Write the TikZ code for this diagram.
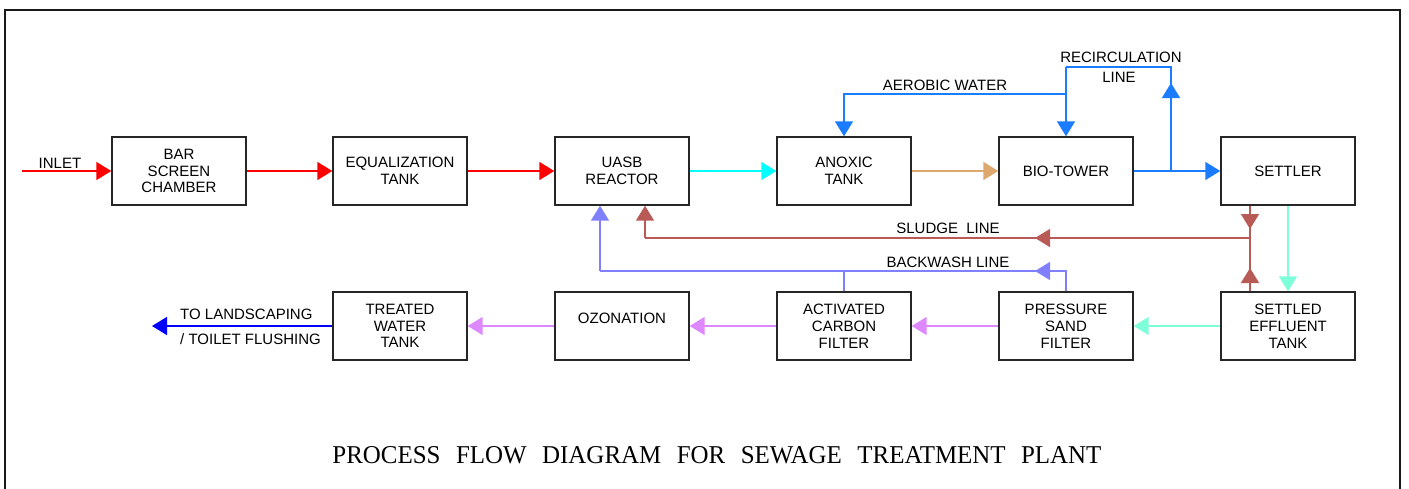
\documentclass[tikz,border=0pt]{standalone}
\usepackage{graphicx}
\usepackage{fontspec}
\setmainfont{Liberation Sans}
\newfontfamily\titlefont{Liberation Serif}
\usetikzlibrary{arrows.meta}
\definecolor{cRed}{RGB}{255,0,0}
\definecolor{cCyan}{RGB}{0,255,255}
\definecolor{cTan}{RGB}{221,168,110}
\definecolor{cBlue}{RGB}{28,124,255}
\definecolor{cSludge}{RGB}{184,91,86}
\definecolor{cWash}{RGB}{128,128,255}
\definecolor{cAqua}{RGB}{127,255,217}
\definecolor{cViolet}{RGB}{221,136,255}
\definecolor{cOut}{RGB}{0,0,255}
\begin{document}
\begin{tikzpicture}[x=1pt,y=-1pt,
  box/.style={draw=black!85,line width=1.4pt,minimum width=134pt,minimum height=68pt,
    align=center,inner sep=0pt,font=\fontsize{15}{16.8}\selectfont},
  pipe/.style={line width=1.5pt},
  flow/.style={pipe,-{Triangle[length=15pt,width=18pt]}},
  lbl/.style={font=\fontsize{15}{17}\selectfont,inner sep=0pt}]
\useasboundingbox (0,0) rectangle (1409,488);
\draw[line width=2.2pt,black!90] (5,495) -- (5,10) -- (1400,10) -- (1400,495);

% top row
\node[box] (bar)  at (179,171)  {BAR\\SCREEN\\CHAMBER};
\node[box] (eq)   at (400,171)  {EQUALIZATION\\TANK};
\node[box] (uasb) at (622,171)  {UASB\\REACTOR};
\node[box] (anox) at (844,171)  {ANOXIC\\TANK};
\node[box] (bio)  at (1066,171) {BIO-TOWER};
\node[box] (set)  at (1288,171) {SETTLER};
% bottom row
\node[box] (tw)   at (400,326)  {TREATED\\WATER\\TANK};
\node[box] (oz)   at (622,326)  {\raisebox{3pt}[0pt][0pt]{OZONATION}};
\node[box] (acf)  at (844,326)  {ACTIVATED\\CARBON\\FILTER};
\node[box] (psf)  at (1066,326) {PRESSURE\\SAND\\FILTER};
\node[box] (sef)  at (1288,326) {SETTLED\\EFFLUENT\\TANK};

% main line
\coordinate (in) at (22,171);
\draw[flow,cRed] (in) -- (bar.west);
\node[lbl] (inlbl) at (60,163) {INLET};
\draw[flow,cRed] (bar) -- (eq);
\draw[flow,cRed] (eq) -- (uasb);
\draw[flow,cCyan] (uasb) -- (anox);
\draw[flow,cTan] (anox) -- (bio);
\draw[flow,cBlue] (bio) -- (set);

% recirculation / aerobic water
\coordinate (rj) at (1171,171);
\coordinate (rtr) at (1171,67);
\coordinate (rtl) at (bio.north |- rtr);
\coordinate (aw) at (bio.north |- 0,94);
\draw[pipe,cBlue] (rj) -- (rtr) -- (rtl);
\draw[flow,cBlue] (rj) -- (1171,83);
\draw[flow,cBlue] (rtl) -- (bio.north);
\draw[flow,cBlue] (aw) -| (anox.north);
\node[lbl] (awlbl) at (945,85) {AEROBIC WATER};
\node[lbl] (rclbl) at (1121,57) {RECIRCULATION};
\node[lbl] (rclbl2) at (1119,77) {LINE};

% sludge line
\coordinate (sj) at (1250,238);
\coordinate (su) at (645,238);
\draw[pipe,cSludge] (set.south -| sj) -- (sj);
\draw[flow,cSludge] (set.south -| sj) -- (1250,229);
\draw[pipe,cSludge] (sef.north -| sj) -- (sj);
\draw[flow,cSludge] (sef.north -| sj) -- (1250,268);
\draw[pipe,cSludge] (sj) -- (su);
\draw[flow,cSludge] (sj) -- (1035,238);
\draw[flow,cSludge] (su) -- (uasb.south -| su);
\node[lbl] (sllbl) at (948,228) {SLUDGE\ \ LINE};

% backwash line
\coordinate (bwr) at (psf.north |- 0,271);
\coordinate (bwl) at (600,271);
\draw[pipe,cWash] (psf.north) -- (bwr) -- (bwl);
\draw[flow,cWash] (bwr) -- (1035,271);
\draw[pipe,cWash] (acf.north) -- (acf.north |- bwr);
\draw[flow,cWash] (bwl) -- (uasb.south -| bwl);
\node[lbl] (bwlbl) at (948,262) {BACKWASH LINE};

% settler to settled effluent and bottom row
\draw[flow,cAqua] (set.south) -- (sef.north);
\draw[flow,cAqua] (sef) -- (psf);
\draw[flow,cViolet] (psf) -- (acf);
\draw[flow,cViolet] (acf) -- (oz);
\draw[flow,cViolet] (oz) -- (tw);
\coordinate (out) at (152,326);
\draw[flow,cOut] (tw.west) -- (out);
\node[lbl,anchor=west] (o1) at (180,314) {TO LANDSCAPING};
\node[lbl,anchor=west] (o2) at (180,339) {/ TOILET FLUSHING};

% title
\node[inner sep=0pt] (title) at (717,455)
  {\resizebox{769pt}{17pt}{\titlefont PROCESS\hspace{0.62em}FLOW\hspace{0.62em}DIAGRAM\hspace{0.62em}FOR\hspace{0.62em}SEWAGE\hspace{0.62em}TREATMENT\hspace{0.62em}PLANT}};
\end{tikzpicture}
\end{document}
